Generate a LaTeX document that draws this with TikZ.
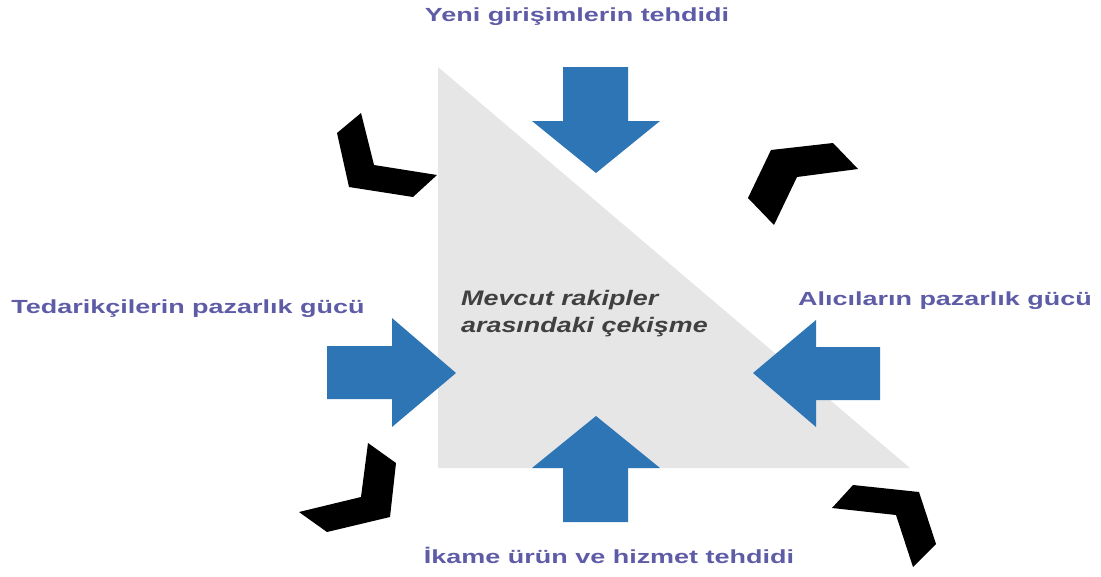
\documentclass[tikz,border=0pt]{standalone}
\usepackage{fontspec}
\setmainfont{Liberation Sans}
\newfontfamily\widefont[FakeStretch=1.42]{Liberation Sans}
\newfontfamily\rivalfont[FakeStretch=1.28]{Liberation Sans}
\usepackage{tikz}

\definecolor{arrowblue}{RGB}{46,117,182}
\definecolor{forcetext}{RGB}{94,92,166}
\definecolor{midgrey}{RGB}{230,230,230}
\definecolor{rivaltext}{RGB}{64,64,64}

\tikzset{
  blockarrow/.style={fill=arrowblue},
  chevron/.style={fill=black},
  forcelabel/.style={font=\widefont\fontsize{19}{22}\selectfont\bfseries, text=forcetext, inner sep=0pt}
}

\begin{document}
\begin{tikzpicture}[x=1pt, y=-1pt]
\useasboundingbox (0,0) rectangle (1101,576);

% draw the triangle
	\fill[midgrey] (438,67) -- (910,468) -- (438,468) -- cycle;

% draw the four block arrows
	\path[blockarrow] (563,67)--(628,67)--(628,121)--(660,121)--(596,173)--(532,121)--(563,121)--cycle;
	\path[blockarrow] (563,522)--(628,522)--(628,468)--(660,468)--(596,416)--(532,468)--(563,468)--cycle;
	\path[blockarrow] (327,346)--(392,346)--(392,318)--(456,373)--(392,427)--(392,399)--(327,399)--cycle;
	\path[blockarrow] (880,347)--(816,347)--(816,320)--(753,373)--(816,427)--(816,400)--(880,400)--cycle;

% draw the black chevrons
	\path[chevron] (337,133)--(361,113)--(374,165)--(437,175)--(413,197)--(349,187)--cycle;
	\path[chevron] (748,198)--(771,150)--(833,143)--(858,169)--(797,177)--(774,225)--cycle;
	\path[chevron] (368,443)--(396,463)--(390,517)--(327,532)--(299,512)--(361,497)--cycle;
	\path[chevron] (832,508)--(853,485)--(919,492)--(936,544)--(913,567)--(896,515)--cycle;

% labels
	\node[forcelabel] (newentry) at (577,17) {Yeni girişimlerin tehdidi};
	\node[forcelabel] (suppliers) at (188,309) {Tedarikçilerin pazarlık gücü};
	\node[forcelabel] (buyers) at (945,301) {Alıcıların pazarlık gücü};
	\node[forcelabel] (substitutes) at (609,555) {İkame ürün ve hizmet tehdidi};

	\node[anchor=west, align=left, inner sep=0pt, text=rivaltext,
	      font=\rivalfont\fontsize{21}{27}\selectfont\bfseries\itshape] (rivalry) at (461,314)
	      {Mevcut rakipler\\arasındaki çekişme};

\end{tikzpicture}
\end{document}
